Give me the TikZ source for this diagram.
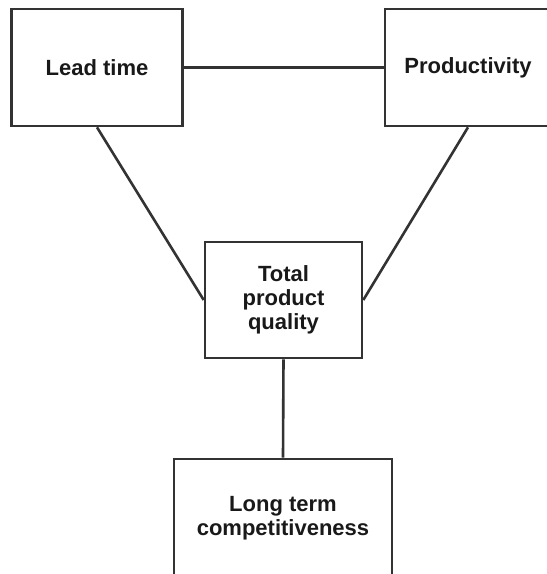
\documentclass[tikz,border=0pt]{standalone}
\usepackage{fontspec}
\setmainfont{Liberation Sans}
\definecolor{edge}{HTML}{333333}

\begin{document}
\begin{tikzpicture}[x=1pt,y=-1pt]
    \tikzstyle{factor}=[draw=edge, line width=2.6pt, fill=white, align=center,
        font=\fontsize{22}{24}\selectfont\bfseries, text=black!90]
    \tikzstyle{link}=[draw=edge, line width=2.6pt]
    \useasboundingbox (0,0) rectangle (547,574);
    \clip (0,0) rectangle (547,574);
    % corners
    \node[factor, minimum width=171pt, minimum height=117pt] (lead) at (97,67.5) {Lead time};
    \node[factor, minimum width=166pt, minimum height=117pt] (prod) at (468,67.5) {Productivity};
    % middle
    \node[factor, minimum width=157pt, minimum height=116pt] (quality) at (283.5,300) {Total\\product\\quality};
    % bottom
    \node[factor, minimum width=218pt, minimum height=118pt] (compet) at (283,518) {Long term\\competitiveness};
    \draw[link] (lead.east) -- (prod.west);
    \draw[link] (lead.south) -- (quality.west);
    \draw[link] (prod.south) -- (quality.east);
    \draw[link] (quality.south) -- (compet.north);
\end{tikzpicture}
\end{document}
